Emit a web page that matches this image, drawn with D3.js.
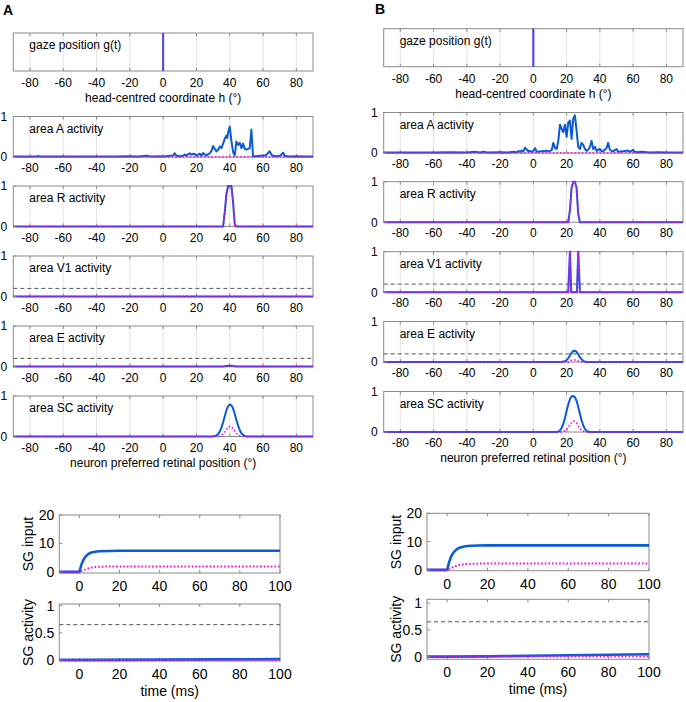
<!DOCTYPE html>
<html>
<head>
<meta charset="utf-8">
<script src="https://cdn.jsdelivr.net/npm/d3@7"></script>
<style>
body { margin: 0; background: #fff; }
text { font-family: "Liberation Sans", Arial, sans-serif; fill: #000; }
</style>
</head>
<body>
<svg id="fig" width="686" height="702"></svg>
<script>
// tick labels
var posTicks = [-80, -60, -40, -20, 0, 20, 40, 60, 80];
var timeTicks = [0, 20, 40, 60, 80, 100];
var inputTicks = [0, 10, 20];
var activityTicks = [0, 0.5, 1];
var threshArea = 0.2;
var threshSG = 0.65;

// panel titles
var areaNames = ["area A activity", "area R activity", "area V1 activity", "area E activity", "area SC activity"];

// gaze position (vertical line at 0)
var gazeA = [[0, 0], [0, 1]];
var gazeB = [[0, 0], [0, 1]];
var flat = [[-90, 0], [90, 0]];

// column A, blue (solid) and magenta (dotted) traces, [position, activity]
var areaA_A = [[-90,0.01],[-76,0.01],[-75,0.03],[-74,0.01],[-60,0.01],[-40,0.01],[-30,0.01],[-20,0.02],[-15,0.01],
  [-10,0.03],[-8,0.02],[-5,0.01],[-2,0.02],[0,0.01],[2,0.02],[4,0.03],[6,0.04],[7,0.09],[8,0.03],[10,0.02],
  [12,0.03],[13,0.06],[14,0.04],[15,0.07],[16,0.09],[17,0.06],[18,0.08],[19,0.07],[20,0.04],[21,0.06],[22,0.08],
  [23,0.03],[24,0.10],[25,0.06],[26,0.04],[27,0.07],[28,0.09],[29,0.15],[30,0.27],[31,0.20],[32,0.14],[33,0.18],
  [34,0.26],[35,0.22],[36,0.33],[37,0.45],[38,0.53],[38.5,0.47],[39,0.60],[40,0.75],[41,0.40],[42,0.12],[43,0.04],
  [44,0.38],[45,0.30],[46,0.35],[47,0.22],[48,0.33],[49,0.20],[50,0.18],[51,0.20],[52,0.22],[53,0.68],[54,0.02],
  [56,0.02],[58,0.03],[60,0.03],[62,0.05],[63,0.10],[64,0.14],[65,0.06],[66,0.03],[68,0.02],[70,0.03],[71,0.06],
  [72,0.11],[73,0.03],[75,0.01],[80,0.02],[85,0.01],[90,0.01]];
var areaR_A = [[-90,0],[36,0],[37,0.35],[38,0.8],[39,1],[40,1],[41,1],[42,0.6],[43,0.05],[44,0],[90,0]];
var areaV1_A = [[-90,0],[90,0]];
var areaE_A = [[-90,0],[36,0],[38,0.01],[40,0.02],[42,0.01],[44,0],[90,0]];
var areaSC_A = [[-90,0],[30,0],[31,0.01],[32,0.03],[33,0.06],[34,0.12],[35,0.22],[36,0.35],[37,0.5],[38,0.65],
  [39,0.75],[40,0.79],[41,0.77],[42,0.69],[43,0.56],[44,0.41],[45,0.27],[46,0.16],[47,0.08],[48,0.04],[49,0.01],[50,0],[90,0]];
var areaSCm_A = [[-90,0],[33,0],[34,0.01],[35,0.03],[36,0.06],[37,0.11],[38,0.17],[39,0.22],[40,0.25],[41,0.24],
  [42,0.2],[43,0.14],[44,0.08],[45,0.04],[46,0.02],[47,0],[90,0]];

// column B
var areaA_B = [[-90,0.01],[-60,0.01],[-50,0.02],[-40,0.01],[-35,0.03],[-32,0.01],[-30,0.03],[-28,0.01],[-20,0.02],
  [-15,0.01],[-12,0.03],[-10,0.02],[-9,0.05],[-8,0.03],[-7,0.06],[-6,0.04],[-5,0.13],[-4,0.09],[-3,0.04],[-2,0.05],
  [-1,0.03],[0,0.05],[1,0.12],[2,0.03],[4,0.04],[6,0.05],[7,0.04],[8,0.06],[9,0.04],[10,0.05],[11,0.07],[12,0.25],
  [13,0.12],[14,0.10],[15,0.30],[16,0.70],[17,0.60],[18,0.52],[19,0.70],[20,0.40],[21,0.75],[22,0.80],[23,0.35],
  [24,0.85],[25,0.93],[26,0.55],[27,0.15],[28,0.10],[29,0.25],[30,0.20],[31,0.10],[32,0.05],[33,0.08],[34,0.15],
  [35,0.30],[36,0.10],[37,0.15],[38,0.05],[39,0.08],[40,0.10],[41,0.05],[42,0.04],[43,0.08],[44,0.12],[45,0.25],
  [46,0.08],[47,0.05],[48,0.04],[50,0.10],[51,0.03],[53,0.04],[55,0.05],[57,0.06],[58,0.03],[60,0.08],[61,0.03],
  [63,0.02],[65,0.03],[70,0.01],[75,0.02],[80,0.01],[90,0.01]];
var areaR_B = [[-90,0],[21,0],[22,0.3],[23,0.85],[24,1],[25,1],[26,0.85],[27,0.2],[28,0],[90,0]];
var areaV1_B = [[-90,0],[21,0],[22,1],[22.8,0],[26.2,0],[27,1],[28,0],[90,0]];
var areaE_B = [[-90,0],[17,0],[18,0.01],[19,0.02],[20,0.05],[21,0.09],[22,0.16],[23,0.23],[24,0.27],[25,0.28],
  [26,0.25],[27,0.19],[28,0.12],[29,0.07],[30,0.03],[31,0.01],[32,0],[90,0]];
var areaEm_B = [[-90,0],[21,0],[22,0.02],[23,0.04],[24,0.05],[25,0.05],[26,0.04],[27,0.02],[28,0],[90,0]];
var areaSC_B = [[-90,0],[14,0],[15,0.01],[16,0.04],[17,0.1],[18,0.2],[19,0.35],[20,0.52],[21,0.68],[22,0.81],
  [23,0.88],[24,0.89],[25,0.86],[26,0.77],[27,0.62],[28,0.45],[29,0.29],[30,0.16],[31,0.08],[32,0.03],[33,0.01],[34,0],[90,0]];
var areaSCm_B = [[-90,0],[17,0],[18,0.01],[19,0.03],[20,0.06],[21,0.11],[22,0.18],[23,0.24],[24,0.27],[25,0.26],
  [26,0.22],[27,0.15],[28,0.09],[29,0.04],[30,0.02],[31,0],[90,0]];

// SG traces, [time ms, value]
var sgInput_A = [[-10,0],[0,0],[1,2.5],[2,4.2],[3,5.3],[4,6.0],[5,6.5],[6,6.8],[8,7.1],[10,7.25],[15,7.35],[20,7.4],[100,7.4]];
var sgInputM_A = [[-10,0],[0,0],[2,0.6],[4,1.1],[6,1.5],[8,1.7],[10,1.8],[15,1.9],[100,1.9]];
var sgAct_A = [[-10,0],[0,0],[40,0.005],[70,0.01],[100,0.015]];
var sgActM_A = [[-10,0],[100,0]];
var sgInput_B = [[-10,0],[0,0],[1,2.8],[2,4.8],[3,6.0],[4,6.8],[5,7.4],[6,7.8],[8,8.2],[10,8.45],[15,8.6],[20,8.65],[100,8.65]];
var sgInputM_B = [[-10,0],[0,0],[2,0.7],[4,1.3],[6,1.7],[8,1.95],[10,2.1],[15,2.2],[20,2.25],[100,2.25]];
var sgAct_B = [[-10,0],[0,0],[20,0.005],[40,0.015],[60,0.025],[80,0.035],[100,0.045]];
var sgActM_B = [[-10,0],[100,0]];

var BLUE = "#0b5bd3", MAGENTA = "#ff00ff";
var svg = d3.select("#fig");

function drawPanel(o) {
  var fs = o.fontSize || 12;
  var x = d3.scaleLinear().domain(o.xDomain).range([o.x0, o.x1]);
  var y = d3.scaleLinear().domain(o.yDomain).range([o.y1, o.y0]);
  var g = svg.append("g");

  if (o.grid) {
    g.selectAll(".grid").data(o.xTicks).enter().append("line")
      .attr("x1", function(d) { return x(d); }).attr("x2", function(d) { return x(d); })
      .attr("y1", o.y0).attr("y2", o.y1)
      .attr("stroke", "#e4e4e4").attr("stroke-width", 1);
  }
  // box and inward ticks (under the traces, like matlab)
  g.append("rect").attr("x", o.x0).attr("y", o.y0)
    .attr("width", o.x1 - o.x0).attr("height", o.y1 - o.y0)
    .attr("fill", "none").attr("stroke", "#8a8a8a").attr("stroke-width", 1);
  g.selectAll(".tkb").data(o.xTicks).enter().append("line")
    .attr("x1", function(d) { return x(d); }).attr("x2", function(d) { return x(d); })
    .attr("y1", o.y1).attr("y2", o.y1 - 3).attr("stroke", "#8a8a8a");
  g.selectAll(".tkt").data(o.xTicks).enter().append("line")
    .attr("x1", function(d) { return x(d); }).attr("x2", function(d) { return x(d); })
    .attr("y1", o.y0).attr("y2", o.y0 + 3).attr("stroke", "#8a8a8a");

  if (o.thresh != null) {
    g.append("line").attr("x1", o.x0).attr("x2", o.x1)
      .attr("y1", y(o.thresh)).attr("y2", y(o.thresh))
      .attr("stroke", "#555").attr("stroke-width", 1).attr("stroke-dasharray", "4,3");
  }

  var line = d3.line().x(function(d) { return x(d[0]); }).y(function(d) { return y(d[1]); });
  g.append("path").datum(o.blue).attr("d", line)
    .attr("fill", "none").attr("stroke", BLUE).attr("stroke-width", o.lw || 2)
    .attr("stroke-linejoin", "round");
  g.append("path").datum(o.magenta).attr("d", line)
    .attr("fill", "none").attr("stroke", MAGENTA).attr("stroke-width", o.mw || 1.6)
    .attr("stroke-dasharray", "1.6,2");

  g.selectAll(".xl").data(o.xTicks).enter().append("text")
    .attr("x", function(d) { return x(d); }).attr("y", o.y1 + o.xLabGap)
    .attr("text-anchor", "middle").style("font-size", fs + "px")
    .text(function(d) { return d; });

  if (o.yTicks) {
    g.selectAll(".ytk").data(o.yTicks).enter().append("line")
      .attr("x1", o.x0).attr("x2", o.x0 + 3)
      .attr("y1", function(d) { return y(d); }).attr("y2", function(d) { return y(d); })
      .attr("stroke", "#8a8a8a");
    g.selectAll(".yl").data(o.yTicks).enter().append("text")
      .attr("x", o.x0 - o.yLabGap).attr("y", function(d) { return y(d); })
      .attr("dy", "0.36em").attr("text-anchor", "end").style("font-size", fs + "px")
      .text(function(d) { return d; });
  }
  if (o.title) {
    g.append("text").attr("x", o.x0 + 16).attr("y", o.y0 + 16)
      .style("font-size", fs + "px").text(o.title);
  }
  if (o.xlabel) {
    g.append("text").attr("x", (o.x0 + o.x1) / 2).attr("y", o.y1 + o.xlabelGap)
      .attr("text-anchor", "middle").style("font-size", fs + "px").text(o.xlabel);
  }
  if (o.ylabel) {
    g.append("text").attr("transform", "translate(" + o.ylabelX + "," + ((o.y0 + o.y1) / 2) + ") rotate(-90)")
      .attr("text-anchor", "middle").attr("dy", "0.35em").style("font-size", fs + "px").text(o.ylabel);
  }
}

function drawColumn(c) {
  drawPanel({ x0: c.x0, x1: c.x1, y0: c.gazeTop, y1: c.gazeTop + 38, xDomain: [-90, 90], yDomain: [0, 1],
    grid: true, xTicks: posTicks, xLabGap: 16, blue: c.gaze, magenta: c.gaze,
    title: "gaze position g(t)", xlabel: "head-centred coordinate h (°)", xlabelGap: 31 });
  c.areas.forEach(function(a, i) {
    var top = c.areaTops[i];
    drawPanel({ x0: c.x0, x1: c.x1, y0: top, y1: top + 40.5, xDomain: [-90, 90], yDomain: [0, 1],
      grid: true, xTicks: posTicks, yTicks: [0, 1], xLabGap: 15, yLabGap: 6,
      blue: a[0], magenta: a[1], title: areaNames[i], thresh: (i === 2 || i === 3) ? threshArea : null,
      xlabel: i === 4 ? "neuron preferred retinal position (°)" : null, xlabelGap: 30 });
  });
  drawPanel({ x0: c.bx0, x1: c.bx1, y0: c.in0, y1: c.in1, xDomain: [-10, 100], yDomain: c.inDom,
    xTicks: timeTicks, yTicks: inputTicks, xLabGap: 18, yLabGap: 5, fontSize: 14, lw: 2.6, mw: 2,
    blue: c.sgIn[0], magenta: c.sgIn[1], ylabel: "SG input", ylabelX: c.ylabX });
  drawPanel({ x0: c.bx0, x1: c.bx1, y0: c.act0, y1: c.act1, xDomain: [-10, 100], yDomain: c.actDom,
    xTicks: timeTicks, yTicks: activityTicks, xLabGap: 18, yLabGap: 5, fontSize: 14, lw: 2.6, mw: 2,
    blue: c.sgAct[0], magenta: c.sgAct[1], thresh: threshSG, ylabel: "SG activity", ylabelX: c.ylabX,
    xlabel: "time (ms)", xlabelGap: 35 });
}

drawColumn({ x0: 13.3, x1: 313, gazeTop: 33, areaTops: [116.5, 186, 256, 326, 396],
  gaze: gazeA,
  areas: [[areaA_A, flat], [areaR_A, areaR_A], [areaV1_A, flat], [areaE_A, flat], [areaSC_A, areaSCm_A]],
  bx0: 59.3, bx1: 280, in0: 515, in1: 573, inDom: [-0.4, 20], act0: 604, act1: 661, actDom: [-0.02, 1.03],
  sgIn: [sgInput_A, sgInputM_A], sgAct: [sgAct_A, sgActM_A], ylabX: 28 });

drawColumn({ x0: 383.7, x1: 683, gazeTop: 28.7, areaTops: [112.5, 181.7, 251.7, 321.5, 391.5],
  gaze: gazeB,
  areas: [[areaA_B, flat], [areaR_B, areaR_B], [areaV1_B, areaV1_B], [areaE_B, areaEm_B], [areaSC_B, areaSCm_B]],
  bx0: 427, bx1: 649, in0: 513.3, in1: 570.7, inDom: [-0.3, 20], act0: 599.3, act1: 659.3, actDom: [-0.05, 1.07],
  sgIn: [sgInput_B, sgInputM_B], sgAct: [sgAct_B, sgActM_B], ylabX: 396 });

// panel letters
svg.append("text").attr("x", 3).attr("y", 15).style("font-size", "14px").style("font-weight", "bold").text("A");
svg.append("text").attr("x", 375).attr("y", 14).style("font-size", "14px").style("font-weight", "bold").text("B");
</script>
</body>
</html>
